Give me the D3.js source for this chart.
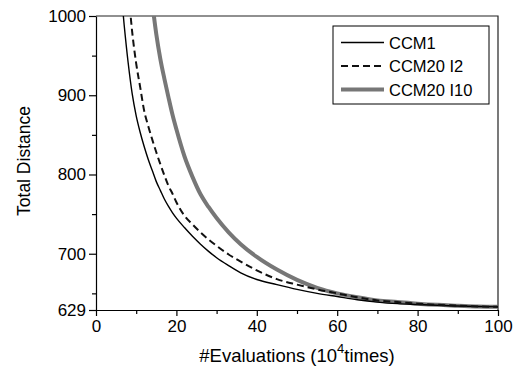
<!DOCTYPE html>
<html>
<head>
<meta charset="utf-8">
<script src="https://cdn.jsdelivr.net/npm/d3@7"></script>
<style>
  body { margin: 0; background: #fff; }
  text { font-family: "Liberation Sans", Arial, sans-serif; }
</style>
</head>
<body>
<div id="chart"></div>
<script>
// evaluations (x 10^4) and total distance of each run
var evaluations = [6, 7, 8, 9, 10, 11, 12, 13, 14, 15, 16, 17, 18, 19, 20, 22, 24, 26, 28, 30, 33, 36, 40, 45, 50, 55, 60, 65, 70, 75, 80, 85, 90, 95, 100];
var ccm1 =     [1045, 989, 941, 902, 874, 853, 835, 819, 805, 791, 780, 769, 760, 752, 745, 733, 722, 712, 703, 695, 685, 676, 667.5, 661, 655, 650, 646, 642, 639, 637, 636, 635, 634, 633.5, 633];
var ccm20i2 =  [1150, 1090, 1035, 980, 940, 910, 880, 861, 844, 828, 813, 799, 786, 776, 765, 748, 737, 727, 718, 710, 699, 690, 679, 668, 661, 655, 650, 645, 641, 639, 637, 635.5, 634.5, 633.5, 633];
var ccm20i10 = [null, null, null, null, null, 1190, 1120, 1065, 1017, 977, 946, 921, 898, 876, 857, 823, 797, 775, 759, 745, 727, 712, 696, 680, 667, 657, 650, 645, 641, 639, 637, 635.5, 634.5, 633.5, 633];
var seriesNames = ["CCM1", "CCM20 I2", "CCM20 I10"];
var xTicks = [0, 20, 40, 60, 80, 100];
var yTicks = [629, 700, 800, 900, 1000];

var margin = {top: 16, right: 18, bottom: 61, left: 96},
    width = 516 - margin.left - margin.right,
    height = 371 - margin.top - margin.bottom;

var svg = d3.select("#chart")
  .append("svg")
    .attr("width", 516)
    .attr("height", 371)
  .append("g")
    .attr("transform", "translate(" + margin.left + "," + margin.top + ")");

var x = d3.scaleLinear().domain([0, 100]).range([0, width]);
var y = d3.scaleLinear().domain([629, 1000]).range([height, 0]);

svg.append("clipPath").attr("id", "plotclip")
  .append("rect").attr("width", width).attr("height", height);

// frame (top + right)
svg.append("path")
  .attr("d", "M0,0H" + width + "V" + height)
  .attr("fill", "none")
  .attr("stroke", "#222")
  .attr("stroke-width", 1.2);

// minor ticks
svg.append("g")
  .attr("transform", "translate(0," + height + ")")
  .call(d3.axisBottom(x).tickValues([10, 30, 50, 70, 90]).tickSize(4).tickFormat(""))
  .call(function(g) { g.select(".domain").remove(); });
svg.append("g")
  .call(d3.axisLeft(y).tickValues([650, 750, 850, 950]).tickSize(4).tickFormat(""))
  .call(function(g) { g.select(".domain").remove(); });

// X axis
svg.append("g")
  .attr("class", "axis")
  .attr("transform", "translate(0," + height + ")")
  .call(d3.axisBottom(x).tickValues(xTicks).tickSize(6).tickSizeOuter(0).tickPadding(4).tickFormat(d3.format("d")));

// Y axis
svg.append("g")
  .attr("class", "axis")
  .call(d3.axisLeft(y).tickValues(yTicks).tickSize(7).tickSizeOuter(0).tickPadding(3).tickFormat(d3.format("d")));

svg.selectAll(".axis text")
  .style("font-size", "17px")
  .attr("fill", "#000");
svg.selectAll(".tick line, .domain").attr("stroke", "#000").attr("stroke-width", 1.2);

// axis labels
var xl = svg.append("text")
  .attr("text-anchor", "middle")
  .attr("x", width / 2)
  .attr("y", height + 52)
  .style("font-size", "18.5px");
xl.append("tspan").text("#Evaluations (10");
xl.append("tspan").attr("dy", -9).style("font-size", "13px").text("4");
xl.append("tspan").attr("dy", 9).text("times)");

svg.append("text")
  .attr("text-anchor", "middle")
  .attr("transform", "rotate(-90)")
  .attr("x", -height / 2 + 2)
  .attr("y", -66)
  .style("font-size", "17.5px")
  .text("Total Distance");

// lines
var styles = [
  {data: ccm20i10, color: "#777", width: 4, dash: null},
  {data: ccm1, color: "#000", width: 1.4, dash: null},
  {data: ccm20i2, color: "#111", width: 2, dash: "7,4"}
];

var line = d3.line()
  .defined(function(d) { return d[1] != null; })
  .x(function(d) { return x(d[0]); })
  .y(function(d) { return y(d[1]); })
  .curve(d3.curveMonotoneX);

styles.forEach(function(s) {
  svg.append("path")
    .datum(evaluations.map(function(e, i) { return [e, s.data[i]]; }))
    .attr("clip-path", "url(#plotclip)")
    .attr("fill", "none")
    .attr("stroke", s.color)
    .attr("stroke-width", s.width)
    .attr("stroke-dasharray", s.dash)
    .attr("d", line);
});

// legend
var legendStyles = [
  {color: "#000", width: 1.4, dash: null},
  {color: "#111", width: 2, dash: "7,4"},
  {color: "#777", width: 4, dash: null}
];
var lg = svg.append("g").attr("transform", "translate(" + (333 - margin.left) + "," + (26 - margin.top) + ")");
lg.append("rect")
  .attr("width", 156).attr("height", 78)
  .attr("fill", "#fff").attr("stroke", "#000").attr("stroke-width", 1);
seriesNames.forEach(function(name, i) {
  var cy = 16.5 + i * 23.5;
  lg.append("line")
    .attr("x1", 8).attr("x2", 51)
    .attr("y1", cy).attr("y2", cy)
    .attr("stroke", legendStyles[i].color)
    .attr("stroke-width", legendStyles[i].width)
    .attr("stroke-dasharray", legendStyles[i].dash);
  lg.append("text")
    .attr("x", 56).attr("y", cy + 6)
    .style("font-size", "16.5px")
    .text(name);
});
</script>
</body>
</html>
